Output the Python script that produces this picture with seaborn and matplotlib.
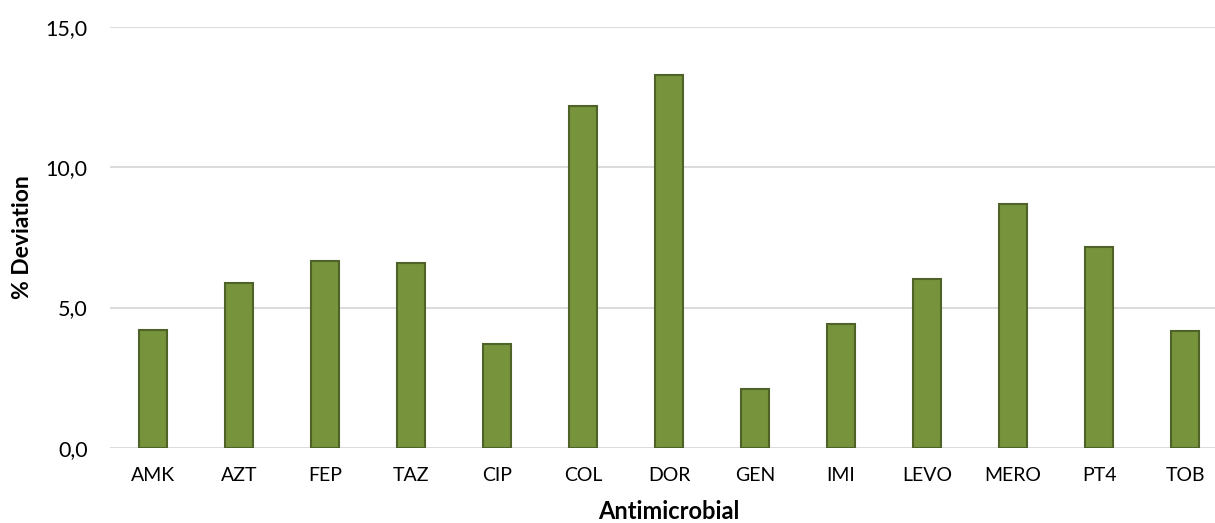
import matplotlib
matplotlib.use("Agg")
import matplotlib.pyplot as plt
import seaborn as sns
import pandas as pd

categories = ["AMK", "AZT", "FEP", "TAZ", "CIP", "COL", "DOR", "GEN", "IMI", "LEVO", "MERO", "PT4", "TOB"]
values = [4.20, 5.86, 6.65, 6.59, 3.69, 12.17, 13.27, 2.11, 4.42, 6.00, 8.68, 7.14, 4.17]
yticks = [0, 5, 10, 15]
ytick_labels = ["0,0", "5,0", "10,0", "15,0"]

sns.set_theme(style="white")
plt.rcParams['font.family'] = ['Lato', 'DejaVu Sans']
plt.rcParams['text.color'] = 'black'
plt.rcParams['axes.labelcolor'] = 'black'

df = pd.DataFrame({"Antimicrobial": categories, "Deviation": values})

fig = plt.figure(figsize=(12.15, 5.23), dpi=100)
ax = fig.add_axes([110/1215, 75/523, 1118/1215, (448-26.7)/523])

sns.barplot(data=df, x="Antimicrobial", y="Deviation", order=categories,
            color="#77933C", edgecolor="#4F6228", linewidth=1.5,
            width=0.33, saturation=1, ax=ax, zorder=3)

ax.set_ylim(0, 15)
ax.set_xlim(-0.5, len(categories) - 0.5)
ax.set_yticks(yticks)
ax.set_yticklabels(ytick_labels)
ax.yaxis.grid(True, color="#D9D9D9", linewidth=1.3, zorder=0)
ax.set_axisbelow(True)
for s in ["top", "right", "left", "bottom"]:
    ax.spines[s].set_visible(False)
ax.tick_params(axis="both", length=0, colors="#000000")
ax.tick_params(axis="x", pad=14, labelsize=14)
ax.tick_params(axis="y", pad=16, labelsize=15.5)
ax.set_xlabel("Antimicrobial", fontsize=17, fontweight="bold", labelpad=11, color="black")
ax.set_ylabel("% Deviation", fontsize=16.5, fontweight="bold", labelpad=9, color="black")

fig.savefig("out.png", dpi=100)
